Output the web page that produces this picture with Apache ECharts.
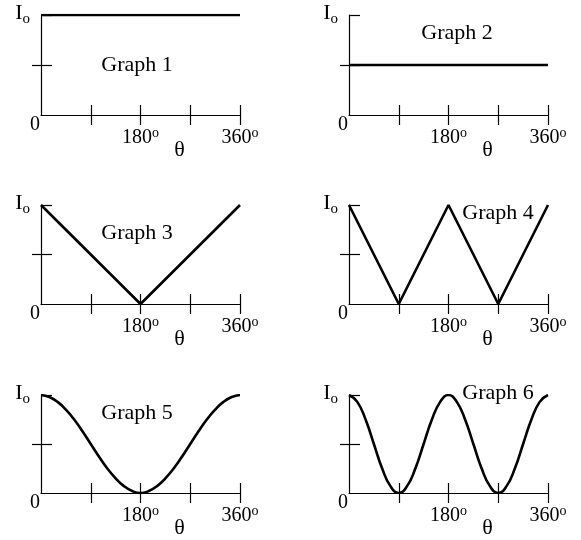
<!DOCTYPE html>
<html>
<head>
<meta charset="utf-8">
<script src="https://cdn.jsdelivr.net/npm/echarts@6/dist/echarts.min.js"></script>
<style>
  html, body { margin: 0; padding: 0; background: #fff; }
  #chart { width: 581px; height: 540px; }
</style>
</head>
<body>
<div id="chart"></div>
<script>
// theta values (degrees) and intensity (in units of Io)
var angles1 = [0, 360];
var graph1 = [1, 1];
var angles2 = [0, 360];
var graph2 = [0.5, 0.5];
var angles3 = [0, 180, 360];
var graph3 = [1, 0, 1];
var angles4 = [0, 90, 180, 270, 360];
var graph4 = [1, 0, 1, 0, 1];
var angles5 = [0, 15, 30, 45, 60, 75, 90, 105, 120, 135, 150, 165, 180,
               195, 210, 225, 240, 255, 270, 285, 300, 315, 330, 345, 360];
var graph5 = [1, 0.98, 0.93, 0.85, 0.75, 0.63, 0.5, 0.37, 0.25, 0.15, 0.07, 0.02, 0,
              0.02, 0.07, 0.15, 0.25, 0.37, 0.5, 0.63, 0.75, 0.85, 0.93, 0.98, 1];
var angles6 = angles5;
var graph6 = [1, 0.93, 0.75, 0.5, 0.25, 0.07, 0, 0.07, 0.25, 0.5, 0.75, 0.93, 1,
              0.93, 0.75, 0.5, 0.25, 0.07, 0, 0.07, 0.25, 0.5, 0.75, 0.93, 1];
var titles = ['Graph 1', 'Graph 2', 'Graph 3', 'Graph 4', 'Graph 5', 'Graph 6'];
var xTickValues = [90, 180, 270, 360];
var xLabelValues = [180, 360];
var yLabelValues = [0, 1];

var allAngles = [angles1, angles2, angles3, angles4, angles5, angles6];
var allValues = [graph1, graph2, graph3, graph4, graph5, graph6];
var smoothFlags = [false, false, false, false, true, true];

var font = 'Liberation Serif';
var grids = [
    {left: 41, top: 15, width: 199, height: 100},
    {left: 349, top: 15, width: 199, height: 100},
    {left: 41, top: 205, width: 199, height: 99},
    {left: 349, top: 205, width: 199, height: 99},
    {left: 41, top: 395, width: 199, height: 99},
    {left: 349, top: 395, width: 199, height: 99}
];
// centre of each "Graph n" label
var titlePos = [[137, 66], [457, 34], [137, 234], [498, 214], [137, 414], [498, 394]];

function pairs(xs, ys) {
    var out = [];
    for (var i = 0; i < xs.length; i++) out.push([xs[i], ys[i]]);
    return out;
}

var xAxes = [], yAxes = [], series = [], titleList = [];
for (var g = 0; g < 6; g++) {
    xAxes.push({
        type: 'value', gridIndex: g, min: 0, max: 360, position: 'bottom',
        axisLine: {onZero: false, lineStyle: {color: '#000', width: 1.2}},
        axisTick: {show: true, length: 10, customValues: xTickValues, lineStyle: {color: '#000', width: 1.2}},
        axisLabel: {
            customValues: xLabelValues, margin: 11, color: '#000',
            formatter: function (v) { return '{n|' + v + '}{s|o}'; },
            rich: {
                n: {fontFamily: font, fontSize: 20, lineHeight: 24, color: '#000'},
                s: {fontFamily: font, fontSize: 14, lineHeight: 14, verticalAlign: 'top', color: '#000'}
            }
        },
        splitLine: {show: false},
        name: 'θ', nameLocation: 'middle', nameGap: 24, nameMoveOverlap: false,
        nameTextStyle: {fontFamily: font, fontSize: 22, color: '#000', padding: [0, 0, 0, 78]}
    });
    xAxes.push({
        type: 'value', gridIndex: g, min: 0, max: 360, position: 'bottom',
        axisLine: {show: false},
        axisTick: {show: true, inside: true, length: 10, customValues: xTickValues, lineStyle: {color: '#000', width: 1.2}},
        axisLabel: {show: false},
        splitLine: {show: false}
    });
    yAxes.push({
        type: 'value', gridIndex: g, min: 0, max: 1, position: 'left',
        axisLine: {onZero: false, lineStyle: {color: '#000', width: 1.2}},
        axisTick: {show: true, inside: true, length: 11, customValues: [0.5, 1], lineStyle: {color: '#000', width: 1.2}},
        axisLabel: {
            customValues: yLabelValues, margin: 1, color: '#000',
            formatter: function (v) { return v === 0 ? '{z|0}' : '{i|I}{o|o}{p|}'; },
            rich: {
                z: {fontFamily: font, fontSize: 20, lineHeight: 20, padding: [20, 0, 0, 0], color: '#000'},
                i: {fontFamily: font, fontSize: 22, lineHeight: 24, padding: [0, 0, 4, 0], color: '#000'},
                o: {fontFamily: font, fontSize: 15, lineHeight: 15, verticalAlign: 'bottom', color: '#000'},
                p: {width: 10}
            }
        },
        splitLine: {show: false}
    });
    yAxes.push({
        type: 'value', gridIndex: g, min: 0, max: 1, position: 'left',
        axisLine: {show: false},
        axisTick: {show: true, length: 9, customValues: [0.5], lineStyle: {color: '#000', width: 1.2}},
        axisLabel: {show: false},
        splitLine: {show: false}
    });
    series.push({
        type: 'line', xAxisIndex: 2 * g, yAxisIndex: 2 * g,
        data: pairs(allAngles[g], allValues[g]),
        smooth: smoothFlags[g], showSymbol: false, symbol: 'none',
        lineStyle: {color: '#000', width: 2.6},
        z: 5
    });
    titleList.push({
        text: titles[g], left: titlePos[g][0], top: titlePos[g][1] - 12, textAlign: 'center',
        textStyle: {fontFamily: font, fontSize: 22, fontWeight: 'normal', color: '#000'},
        padding: 0
    });
}

var myChart = echarts.init(document.getElementById('chart'));
myChart.setOption({
    animation: false,
    backgroundColor: '#fff',
    title: titleList,
    grid: grids,
    xAxis: xAxes,
    yAxis: yAxes,
    series: series
});
</script>
</body>
</html>
